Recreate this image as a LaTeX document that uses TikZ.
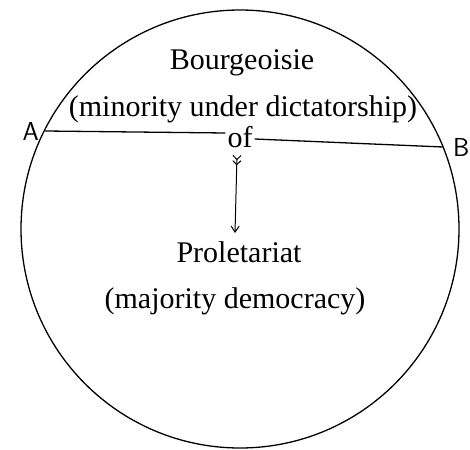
\documentclass[tikz,border=0pt]{standalone}
\usepackage{fontspec}
\setmainfont{Liberation Serif}
\usetikzlibrary{calc, positioning}
\usetikzlibrary{arrows.meta}

\tikzset{
  lbl/.style={font=\fontsize{30}{34}\selectfont, inner sep=1pt},
  pt/.style={font=\sffamily\fontsize{26}{28}\selectfont, inner sep=1pt}
}

\begin{document}
\begin{tikzpicture}[x=1pt,y=-1pt]
\useasboundingbox (0,0) rectangle (470,449);
\def\rad{219}
\coordinate (O) at (240,229);
\coordinate (A) at (45,131);
\coordinate (B) at (443,147);
\draw[line width=1.3pt] (O) circle (\rad);
\node[lbl] (bourg) at (242,63) {Bourgeoisie};
\node[lbl] (minor) at (243,109) {(minority under dictatorship)};
\node[lbl, inner sep=2pt] (of) at (240,137) {of};
\node[lbl] (prol) at (239,252) {Proletariat};
\node[lbl] (major) at (235,301) {(majority democracy)};
\node[pt, left=5pt] at (A) {A};
\node[pt, right=9pt] at (B) {B};
\draw[line width=1.3pt] (A) -- (of.west |- 0,133);
\draw[line width=1.3pt] (of.east |- 0,139) -- (B);
\draw[line width=1pt,
  {Straight Barb[reversed,length=4pt,width=8pt]Straight Barb[reversed,length=4pt,width=8pt]}-{Straight Barb[length=6pt,width=8pt]}]
  (237,155) -- (235,233);
\end{tikzpicture}
\end{document}
